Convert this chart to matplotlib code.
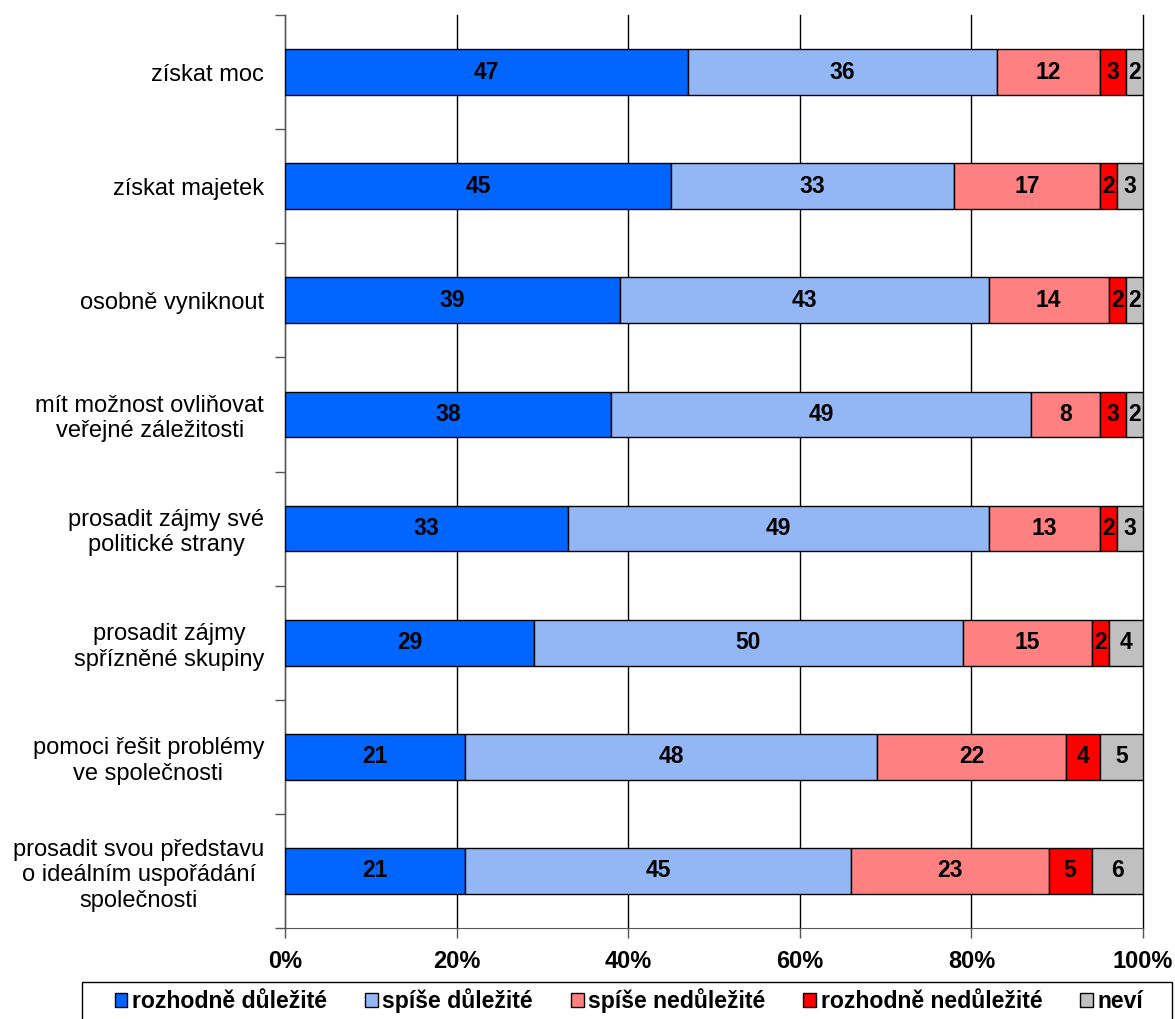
import matplotlib
matplotlib.use("Agg")
import matplotlib.pyplot as plt
from matplotlib.ticker import FixedLocator
from matplotlib.patches import Patch, Rectangle

plt.rcParams['font.family'] = ['Liberation Sans', 'DejaVu Sans']

categories = [
    "získat moc",
    "získat majetek",
    "osobně vyniknout",
    "mít možnost ovliňovat\nveřejné záležitosti",
    "prosadit zájmy své\npolitické strany",
    "prosadit zájmy\nspřízněné skupiny",
    "pomoci řešit problémy\nve společnosti",
    "prosadit svou představu\no ideálním uspořádání\nspolečnosti",
]
series_names = ["rozhodně důležité", "spíše důležité", "spíše nedůležité",
                "rozhodně nedůležité", "neví"]
rozhodne_dulezite = [47, 45, 39, 38, 33, 29, 21, 21]
spise_dulezite = [36, 33, 43, 49, 49, 50, 48, 45]
spise_nedulezite = [12, 17, 14, 8, 13, 15, 22, 23]
rozhodne_nedulezite = [3, 2, 2, 3, 2, 2, 4, 5]
nevi = [2, 3, 2, 2, 3, 4, 5, 6]
series = [rozhodne_dulezite, spise_dulezite, spise_nedulezite,
          rozhodne_nedulezite, nevi]
colors = ["#0066FF", "#93B7F5", "#FF8080", "#FF0000", "#C0C0C0"]
xticklabels = ["0%", "20%", "40%", "60%", "80%", "100%"]

W, H = 1175, 1019
fig = plt.figure(figsize=(W/100, H/100), dpi=100)
ax = fig.add_axes([285/W, 1-928/H, (1143-285)/W, (928-15)/H])

y = list(range(len(categories)))
left = [0]*len(categories)
for vals, col, name in zip(series, colors, series_names):
    ax.barh(y, vals, left=left, height=0.40, color=col,
            edgecolor="black", linewidth=1.0, label=name, zorder=3)
    for yi, l, v in zip(y, left, vals):
        ax.text(l + v/2, yi, str(v), ha="center", va="center",
                fontsize=16.5, fontweight="bold", color="black", zorder=4)
    left = [a + b for a, b in zip(left, vals)]

ax.set_xlim(0, 100)
ax.set_ylim(len(categories)-0.5, -0.5)
ax.set_xticks([0, 20, 40, 60, 80, 100])
ax.set_xticklabels(xticklabels, fontsize=17, fontweight="bold")
ax.set_yticks(y)
ax.set_yticklabels(categories, fontsize=17, multialignment="center")
ax.yaxis.set_minor_locator(FixedLocator([i - 0.5 for i in range(len(categories)+1)]))
ax.tick_params(axis="y", which="major", length=0, pad=15)
ax.tick_params(axis="y", which="minor", length=7, width=1, color="#555555", direction="out")
ax.tick_params(axis="x", length=7, width=1, color="#555555", direction="out", pad=9)
ax.grid(axis="x", color="black", linewidth=1, zorder=0)
for gl in ax.get_xgridlines():
    gl.set_clip_on(False)
for s in ["top", "right"]:
    ax.spines[s].set_visible(False)
ax.spines["left"].set_color("#555555")
ax.spines["bottom"].set_color("#555555")

# legend frame (extends below the image, as in the reference)
fig.patches.append(Rectangle((82/W, 1-1030/H), (1172-82)/W, (1030-982)/H,
                             transform=fig.transFigure, facecolor="white",
                             edgecolor="black", linewidth=1, zorder=1))
handles = [Patch(facecolor=c, edgecolor="black", label=n) for c, n in zip(colors, series_names)]
leg = fig.legend(handles=handles, loc="center", ncol=5,
                 bbox_to_anchor=(629/W, 1-1001/H),
                 frameon=False,
                 prop={"size": 16.6, "weight": "bold"},
                 handlelength=0.55, handleheight=0.55, handletextpad=0.2,
                 columnspacing=1.65, borderpad=0.0)
leg.set_zorder(2)

fig.savefig("out.png", dpi=100)
